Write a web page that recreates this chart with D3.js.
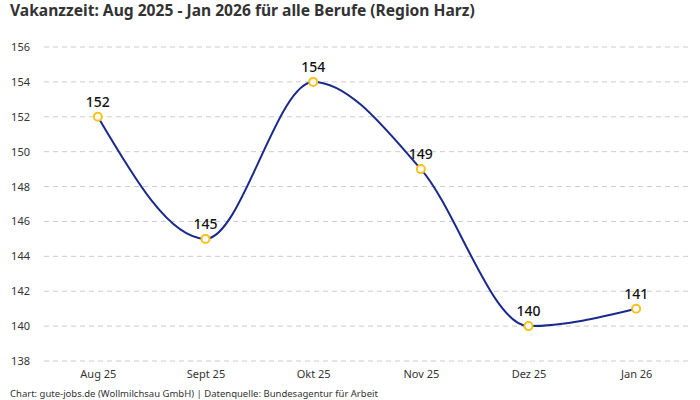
<!DOCTYPE html>
<html>
<head>
<meta charset="utf-8">
<script src="https://cdn.jsdelivr.net/npm/d3@7"></script>
<style>
body{margin:0;background:#fff;}
text{font-family:"Noto Sans",sans-serif;}
</style>
</head>
<body>
<script>
const months = ["Aug 25","Sept 25","Okt 25","Nov 25","Dez 25","Jan 26"];
const values = [152,145,154,149,140,141];
const yTicks = [138,140,142,144,146,148,150,152,154,156];

const width = 700, height = 400;
const svg = d3.select("body").append("svg")
	.attr("width", width)
	.attr("height", height);

const x = d3.scalePoint().domain(months).range([44, 690]).padding(0.5);
const y = d3.scaleLinear().domain([138,156]).range([361, 47]);

svg.append("text")
	.attr("x", 10).attr("y", 16)
	.attr("font-size", 15.6).attr("font-weight", "bold")
	.attr("fill", "#333")
	.text("Vakanzzeit: Aug 2025 - Jan 2026 für alle Berufe (Region Harz)");

// grid
svg.append("g").selectAll("line")
	.data(yTicks)
	.join("line")
	.attr("x1", 44).attr("x2", 690)
	.attr("y1", d => y(d)).attr("y2", d => y(d))
	.attr("stroke", "#cccccc")
	.attr("stroke-dasharray", "5,4");

// y axis labels
const yAxis = svg.append("g")
	.attr("transform", "translate(32,0)")
	.call(d3.axisLeft(y).tickValues(yTicks).tickSize(0).tickPadding(2));
yAxis.select(".domain").remove();
yAxis.selectAll("text").attr("font-size", 11).attr("fill", "#333")
	.attr("font-family", "Noto Sans, sans-serif");

// x axis labels
const xAxis = svg.append("g")
	.attr("transform", "translate(0,366)")
	.call(d3.axisBottom(x).tickSize(0).tickPadding(4));
xAxis.select(".domain").remove();
xAxis.selectAll("text").attr("font-size", 11).attr("fill", "#333")
	.attr("font-family", "Noto Sans, sans-serif");

const data = months.map((m, i) => [m, values[i]]);

svg.append("path")
	.datum(data)
	.attr("fill", "none")
	.attr("stroke", "#1a2a8c")
	.attr("stroke-width", 2)
	.attr("d", d3.line().x(d => x(d[0])).y(d => y(d[1])).curve(d3.curveMonotoneX));

svg.append("g").selectAll("circle")
	.data(data)
	.join("circle")
	.attr("cx", d => x(d[0]))
	.attr("cy", d => y(d[1]))
	.attr("r", 4)
	.attr("fill", "#fff")
	.attr("stroke", "#f7c21a")
	.attr("stroke-width", 2);

svg.append("g").selectAll("text")
	.data(data)
	.join("text")
	.attr("x", d => x(d[0]))
	.attr("y", d => y(d[1]) - 10)
	.attr("text-anchor", "middle")
	.attr("font-size", 14)
	.attr("font-weight", 500)
	.attr("fill", "#111")
	.text(d => d[1]);

svg.append("text")
	.attr("x", 10).attr("y", 397)
	.attr("font-size", 9.5).attr("fill", "#333")
	.text("Chart: gute-jobs.de (Wollmilchsau GmbH) | Datenquelle: Bundesagentur für Arbeit");
</script>
</body>
</html>
